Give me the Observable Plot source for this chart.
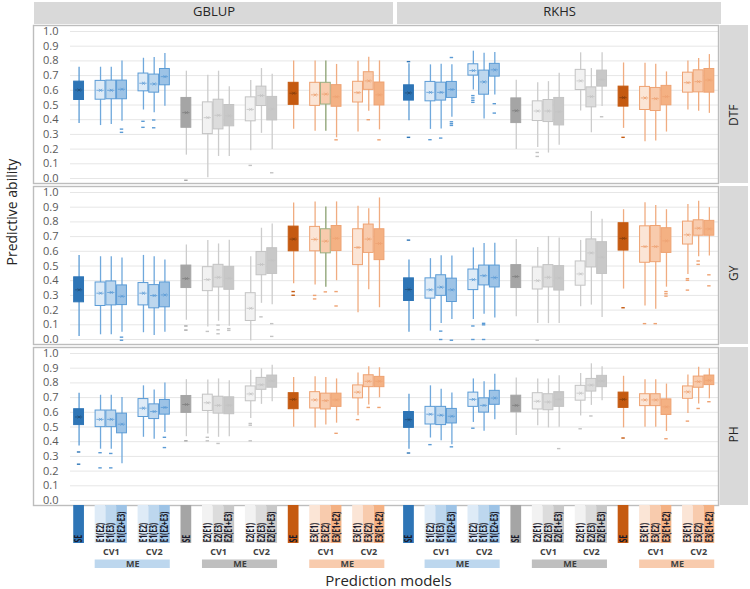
<!DOCTYPE html>
<html><head><meta charset="utf-8">
<script src="https://cdn.jsdelivr.net/npm/d3@7"></script>
<script src="https://cdn.jsdelivr.net/npm/@observablehq/plot@0.6"></script>
<style>
body{margin:0;background:#fff;}
#chart{width:750px;position:relative;background:#fff;}
#chart svg{display:block;}
</style></head><body><div id="chart"></div>
<script>
// ---------- categories ----------
const models = ["GBLUP", "RKHS"];
const traits = ["DTF", "GY", "PH"];
const envs = ["E1", "E2", "E3"];
const labelsE1 = ["SE", "E1(E2)", "E1(E3)", "E1(E2+E3)", "E1(E2)", "E1(E3)", "E1(E2+E3)"];
const labelsE2 = ["SE", "E2(E1)", "E2(E3)", "E2(E1+E3)", "E2(E1)", "E2(E3)", "E2(E1+E3)"];
const labelsE3 = ["SE", "E3(E1)", "E3(E2)", "E3(E1+E2)", "E3(E1)", "E3(E2)", "E3(E1+E2)"];
const schemes = ["SE", "CV1", "CV1", "CV1", "CV2", "CV2", "CV2"];
const yTicks = [0.0, 0.1, 0.2, 0.3, 0.4, 0.5, 0.6, 0.7, 0.8, 0.9, 1.0];

// ---------- box statistics: [lower whisker, Q1, median, Q3, upper whisker] ----------
const GBLUP_DTF = [
 [0.375,0.534,0.602,0.659,0.757],[0.36,0.536,0.60,0.664,0.757],[0.368,0.539,0.60,0.666,0.757],[0.389,0.539,0.607,0.666,0.80],
 [0.466,0.593,0.648,0.714,0.818],[0.448,0.584,0.643,0.707,0.823],[0.491,0.634,0.693,0.745,0.85],
 [0.159,0.345,0.448,0.548,0.73],[0.005,0.302,0.414,0.518,0.702],[0.15,0.334,0.43,0.536,0.73],[0.15,0.355,0.427,0.50,0.625],
 [0.189,0.389,0.47,0.552,0.666],[0.307,0.493,0.564,0.625,0.748],[0.198,0.395,0.473,0.555,0.709],
 [0.335,0.501,0.58,0.651,0.80],[0.322,0.494,0.569,0.651,0.80],[0.322,0.503,0.574,0.651,0.80],[0.277,0.488,0.556,0.635,0.776],
 [0.317,0.517,0.584,0.658,0.798],[0.458,0.603,0.664,0.723,0.825],[0.331,0.497,0.569,0.653,0.80]];
const RKHS_DTF = [
 [0.393,0.53,0.582,0.634,0.78],[0.334,0.525,0.586,0.657,0.773],[0.336,0.53,0.586,0.652,0.777],[0.416,0.548,0.605,0.657,0.773],
 [0.602,0.70,0.734,0.777,0.866],[0.405,0.57,0.657,0.734,0.852],[0.568,0.693,0.739,0.78,0.857],
 [0.198,0.377,0.461,0.545,0.668],[0.211,0.391,0.459,0.525,0.652],[0.173,0.384,0.459,0.534,0.659],[0.227,0.361,0.455,0.548,0.716],
 [0.459,0.602,0.664,0.739,0.855],[0.311,0.484,0.557,0.62,0.748],[0.489,0.625,0.673,0.734,0.855],
 [0.341,0.489,0.55,0.625,0.786],[0.25,0.466,0.548,0.623,0.784],[0.255,0.459,0.543,0.616,0.777],[0.316,0.498,0.557,0.63,0.725],
 [0.466,0.584,0.652,0.72,0.80],[0.457,0.586,0.659,0.736,0.816],[0.443,0.584,0.67,0.745,0.843]];
const GBLUP_GY = [
 [0.02,0.253,0.338,0.423,0.572],[0.032,0.228,0.315,0.388,0.563],[0.032,0.232,0.32,0.395,0.563],[0.05,0.234,0.294,0.368,0.554],
 [0.046,0.232,0.315,0.384,0.572],[0.028,0.212,0.299,0.37,0.563],[0.05,0.219,0.303,0.388,0.54],
 [0.131,0.35,0.414,0.503,0.643],[0.085,0.329,0.407,0.492,0.674],[0.124,0.354,0.423,0.508,0.65],[0.09,0.338,0.416,0.494,0.676],
 [-0.01,0.126,0.212,0.315,0.563],[0.246,0.437,0.51,0.595,0.757],[0.237,0.446,0.538,0.621,0.786],
 [0.379,0.60,0.683,0.768,0.929],[0.37,0.60,0.681,0.766,0.936],[0.356,0.586,0.669,0.75,0.901],[0.40,0.602,0.688,0.772,0.936],
 [0.182,0.506,0.626,0.75,0.906],[0.338,0.589,0.683,0.782,0.89],[0.216,0.54,0.653,0.75,0.963]];
const RKHS_GY = [
 [0.05,0.262,0.34,0.416,0.54],[0.057,0.278,0.338,0.416,0.55],[0.108,0.297,0.356,0.437,0.57],[0.136,0.255,0.338,0.414,0.568],
 [0.136,0.336,0.407,0.476,0.623],[0.172,0.368,0.434,0.503,0.653],[0.147,0.354,0.421,0.503,0.655],
 [0.154,0.35,0.428,0.506,0.681],[0.108,0.34,0.40,0.49,0.626],[0.108,0.354,0.423,0.506,0.701],[0.108,0.333,0.418,0.499,0.69],
 [0.223,0.366,0.446,0.531,0.674],[0.234,0.49,0.589,0.681,0.871],[0.149,0.446,0.559,0.662,0.818],
 [0.343,0.605,0.688,0.791,0.883],[0.228,0.522,0.632,0.77,0.931],[0.205,0.526,0.632,0.772,0.912],[0.356,0.589,0.671,0.757,0.883],
 [0.443,0.646,0.712,0.802,0.919],[0.563,0.706,0.757,0.811,0.94],[0.568,0.706,0.752,0.807,0.897]];
const GBLUP_PH = [
 [0.37,0.513,0.568,0.621,0.73],[0.349,0.499,0.552,0.612,0.716],[0.349,0.499,0.552,0.612,0.716],[0.25,0.457,0.519,0.591,0.70],
 [0.43,0.568,0.628,0.69,0.78],[0.416,0.554,0.605,0.654,0.751],[0.462,0.584,0.633,0.684,0.799],
 [0.434,0.596,0.653,0.711,0.822],[0.453,0.609,0.665,0.72,0.82],[0.43,0.591,0.647,0.706,0.827],[0.434,0.587,0.647,0.702,0.815],
 [0.557,0.675,0.725,0.776,0.886],[0.654,0.753,0.787,0.834,0.896],[0.672,0.767,0.813,0.85,0.92],
 [0.499,0.621,0.688,0.73,0.836],[0.494,0.626,0.684,0.737,0.841],[0.513,0.619,0.679,0.727,0.836],[0.526,0.637,0.684,0.727,0.827],
 [0.577,0.695,0.737,0.783,0.868],[0.649,0.771,0.811,0.852,0.91],[0.699,0.771,0.811,0.841,0.903]];
const RKHS_PH = [
 [0.349,0.494,0.55,0.602,0.723],[0.425,0.517,0.587,0.637,0.78],[0.406,0.513,0.58,0.637,0.757],[0.38,0.524,0.573,0.623,0.732],
 [0.531,0.637,0.688,0.734,0.827],[0.471,0.598,0.647,0.695,0.808],[0.55,0.651,0.697,0.746,0.859],
 [0.443,0.60,0.647,0.713,0.834],[0.508,0.619,0.675,0.73,0.827],[0.494,0.614,0.67,0.723,0.827],[0.499,0.637,0.688,0.737,0.848],
 [0.575,0.679,0.73,0.78,0.864],[0.647,0.741,0.785,0.827,0.93],[0.679,0.771,0.813,0.848,0.91],
 [0.494,0.63,0.688,0.734,0.845],[0.499,0.642,0.684,0.723,0.822],[0.499,0.642,0.684,0.723,0.822],[0.469,0.582,0.637,0.688,0.792],
 [0.591,0.692,0.739,0.776,0.854],[0.656,0.767,0.808,0.843,0.907],[0.692,0.785,0.817,0.85,0.896]];

// ---------- outliers: [box index, value] ----------
const GBLUP_DTF_out = [[3,0.336],[3,0.314],[4,0.389],[4,0.348],[5,0.398],[5,0.345],[7,-0.012],[11,0.089],[13,0.039],[17,0.263],[19,0.40],[20,0.263]];
const RKHS_DTF_out = [[0,0.795],[0,0.28],[1,0.264],[2,0.275],[3,0.823],[3,0.386],[3,0.373],[3,0.361],[4,0.564],[4,0.548],[4,0.532],[4,0.518],[6,0.509],[6,0.445],[8,0.177],[8,0.15],[13,0.42],[14,0.28]];
const GBLUP_GY_out = [[3,0.016],[3,-0.005],[7,0.092],[7,0.064],[8,0.055],[9,0.098],[9,0.066],[9,0.039],[10,0.074],[10,0.062],[12,0.154],[13,0.108],[13,0.021],[14,0.326],[14,0.301],[15,0.30],[15,0.276],[16,0.324],[17,0.326],[17,0.228]];
const RKHS_GY_out = [[0,0.676],[2,0.057],[2,0.0],[3,-0.005],[4,0.092],[4,0.0],[5,0.11],[5,0.10],[5,0.0],[8,-0.005],[14,0.216],[15,0.108],[16,0.108],[17,0.326],[17,0.311],[17,0.295],[18,0.414],[18,0.403],[18,0.336],[19,0.534],[19,0.511],[20,0.44],[20,0.365]];
const GBLUP_PH_out = [[0,0.33],[0,0.247],[1,0.325],[1,0.222],[2,0.32],[2,0.222],[6,0.43],[6,0.36],[7,0.406],[8,0.43],[8,0.406],[9,0.388],[11,0.524],[11,0.512],[11,0.406],[17,0.457],[18,0.55],[19,0.633],[20,0.633]];
const RKHS_PH_out = [[0,0.323],[1,0.38],[3,0.365],[4,0.492],[10,0.353],[11,0.488],[12,0.575],[14,0.425],[17,0.42],[18,0.54],[19,0.626],[20,0.672]];

// ---------- colours (per environment: SE, ME lightest .. darkest) ----------
const blueFills   = ["#2e75b6", "#deebf7", "#bdd7ee", "#9dc3e6"];
const grayFills   = ["#a5a5a5", "#f2f2f2", "#dcdcdc", "#c8c8c8"];
const orangeFills = ["#c55a11", "#fbe5d6", "#f8cbad", "#f4b183"];
const envStroke   = ["#5b9bd5", "#c3c3c3", "#eea272"];
const envWhisker  = ["#6fa8dc", "#cccccc", "#f0ac80"];
const seMedian    = ["#1f4e79", "#7f7f7f", "#843c0c"];
const meBarFills  = ["#bdd7ee", "#bfbfbf", "#f8cbad"];
const greenWhisker = [["GBLUP", "DTF", 16], ["GBLUP", "GY", 16]];

// ---------- layout constants ----------
const W = 750, ML = 70, MR = 32, MT = 25, ROW = 158, GAP = 3;
const H = MT + 3 * ROW + 2 * GAP;
const SLOT = [0, 2, 3, 4, 6, 7, 8], ENV_STEP = 10, MODEL_STEP = 30.75;
const xDomain = [-0.8, 59.6];
const FONT = "'Open Sans', 'Noto Sans', sans-serif";

const statsOf = {GBLUP: {DTF: GBLUP_DTF, GY: GBLUP_GY, PH: GBLUP_PH}, RKHS: {DTF: RKHS_DTF, GY: RKHS_GY, PH: RKHS_PH}};
const outOf = {GBLUP: {DTF: GBLUP_DTF_out, GY: GBLUP_GY_out, PH: GBLUP_PH_out}, RKHS: {DTF: RKHS_DTF_out, GY: RKHS_GY_out, PH: RKHS_PH_out}};
const fillsOf = [blueFills, grayFills, orangeFills];
const labelsOf = [labelsE1, labelsE2, labelsE3];
const posOf = (m, i) => models.indexOf(m) * MODEL_STEP + Math.floor(i / 7) * ENV_STEP + SLOT[i % 7];
const fillIdx = j => j === 0 ? 0 : ((j - 1) % 3) + 1;

const boxes = [], outs = [];
for (const m of models) for (const t of traits) {
  statsOf[m][t].forEach(([lo, q1, med, q3, hi], i) => {
    const e = Math.floor(i / 7), j = i % 7;
    const fill = fillsOf[e][fillIdx(j)];
    const green = greenWhisker.some(g => g[0] === m && g[1] === t && g[2] === i);
    boxes.push({model: m, trait: t, pos: posOf(m, i), lo, q1, med, q3, hi, fill,
      stroke: j === 0 ? fill : (green ? "#9aae80" : envStroke[e]),
      wcol: green ? "#8aa070" : (j === 0 && e === 0 ? "#5b9bd5" : envWhisker[e]),
      mcol: j === 0 ? seMedian[e] : envStroke[e]});
  });
  outOf[m][t].forEach(([i, v]) => {
    const e = Math.floor(i / 7), j = i % 7;
    outs.push({trait: t, pos: posOf(m, i), v, col: j === 0 ? fillsOf[e][0] : envStroke[e]});
  });
}

// ---------- main faceted panel ----------
const frameCenter = (ML + (W - MR)) / 2;
const stripL = [34, 397], stripR = [393, 721];
const main = Plot.plot({
  width: W, height: H, marginLeft: ML, marginRight: MR, marginTop: MT, marginBottom: 0,
  style: {fontFamily: FONT, background: "white", overflow: "visible"},
  x: {domain: xDomain, axis: null},
  y: {domain: [0, 1], insetTop: 6, insetBottom: 5, axis: null},
  fy: {domain: traits, axis: null, paddingInner: GAP / (ROW + GAP), paddingOuter: 0},
  color: {type: "identity"},
  marks: [
    Plot.gridY(yTicks, {stroke: "#e6e6e6", strokeOpacity: 1}),
    Plot.axisY(yTicks, {tickSize: 0, tickPadding: 12, tickFormat: d3.format(".1f"), fontSize: 11, fill: "#595959", label: null}),
    Plot.frame({stroke: "#bdbdbd", strokeWidth: 1.4, insetLeft: -(ML - 33)}),
    // whiskers, boxes, medians (with mean cross), outliers
    Plot.ruleX(boxes, {x: "pos", y1: "lo", y2: "hi", fy: "trait", stroke: "wcol", strokeWidth: 1.3}),
    Plot.rect(boxes, {x1: d => d.pos - 0.46, x2: d => d.pos + 0.46, y1: "q1", y2: "q3", fy: "trait", fill: "fill", stroke: "stroke", strokeWidth: 1}),
    Plot.ruleY(boxes, {y: "med", x1: d => d.pos - 0.34, x2: d => d.pos + 0.34, fy: "trait", stroke: "mcol", strokeWidth: 0.8}),
    Plot.dot(boxes, {x: "pos", y: "med", fy: "trait", symbol: "times", r: 1.5, stroke: "mcol", strokeWidth: 0.8}),
    Plot.ruleY(outs, {y: "v", x1: d => d.pos - 0.16, x2: d => d.pos + 0.16, fy: "trait", stroke: "col", strokeWidth: 1.4}),
    // column strips
    ...models.map((m, k) => Plot.rect([{trait: "DTF"}], {fy: "trait", fill: "#d9d9d9",
      insetTop: -(MT - 2), insetBottom: ROW + 1, insetLeft: stripL[k] - ML, insetRight: (W - MR) - stripR[k]})),
    ...models.map((m, k) => Plot.text([{trait: "DTF"}], {fy: "trait", text: () => m, frameAnchor: "top", lineAnchor: "middle",
      dy: -(MT - 2) / 2 - 2, dx: (stripL[k] + stripR[k]) / 2 - frameCenter, fontSize: 13, fill: "#262626"})),
    // row strips
    Plot.rect(traits.map(t => ({trait: t})), {fy: "trait", fill: "#d9d9d9", insetLeft: (W - MR - ML) + 1.5, insetRight: -(MR - 2)}),
    Plot.text(traits.map(t => ({trait: t})), {fy: "trait", text: "trait", frameAnchor: "right", dx: 15.5, rotate: -90, fontSize: 12, fill: "#262626"}),
    // y title
    Plot.text([{trait: "GY"}], {fy: "trait", text: () => "Predictive ability", frameAnchor: "left", dx: -(ML - 12), rotate: -90, fontSize: 14, fill: "#262626"})
  ]
});

// ---------- bottom legend (x categories) ----------
const LH = 589 - H;
const legendBars = [], cvItems = [], meItems = [];
for (const m of models) envs.forEach((env, e) => {
  labelsOf[e].forEach((lab, j) => {
    const i = e * 7 + j;
    legendBars.push({pos: posOf(m, i), label: lab, fill: fillsOf[e][fillIdx(j)]});
  });
  cvItems.push({pos: posOf(m, e * 7 + 2), label: schemes[2]});
  cvItems.push({pos: posOf(m, e * 7 + 5), label: schemes[5]});
  meItems.push({x1: posOf(m, e * 7 + 1) - 0.5, x2: posOf(m, e * 7 + 6) + 0.5, pos: (posOf(m, e * 7 + 1) + posOf(m, e * 7 + 6)) / 2, fill: meBarFills[e]});
});

const legend = Plot.plot({
  width: W, height: LH, marginLeft: ML, marginRight: MR, marginTop: 0, marginBottom: 0,
  style: {fontFamily: FONT, background: "white", overflow: "visible"},
  x: {domain: xDomain, axis: null},
  color: {type: "identity"},
  marks: [
    Plot.rect(legendBars, {x1: d => d.pos - 0.5, x2: d => d.pos + 0.5, fill: "fill", insetBottom: LH - 38}),
    Plot.text(legendBars, {x: "pos", text: "label", frameAnchor: "top", dy: 37, rotate: -90, textAnchor: "start", lineAnchor: "middle",
      fontSize: 7, fontWeight: "bold", fill: "#1a1a2a"}),
    Plot.text(cvItems, {x: "pos", text: "label", frameAnchor: "top", lineAnchor: "middle", dy: 47, fontSize: 9, fontWeight: "bold", fill: "#404040"}),
    Plot.rect(meItems, {x1: "x1", x2: "x2", fill: "fill", insetTop: 54.5, insetBottom: LH - 63}),
    Plot.text(meItems, {x: "pos", text: () => "ME", frameAnchor: "top", lineAnchor: "middle", dy: 59, fontSize: 9, fontWeight: "bold", fill: "#404040"}),
    Plot.text(["Prediction models"], {text: d => d, frameAnchor: "top", lineAnchor: "middle", dy: 76, dx: -6, fontSize: 15, fill: "#262626"})
  ]
});
// widen the rotated category labels (the reference draws them in a squat, wide type)
d3.select(legend).selectAll("text").each(function () {
  const tr = this.getAttribute("transform") || "";
  if (tr.includes("rotate(-90)")) {
    this.setAttribute("transform", tr + " scale(1,1.4)");
    this.style.letterSpacing = "-0.2px";
  }
});
const chart = document.getElementById("chart");
chart.append(main, legend);
</script></body></html>
